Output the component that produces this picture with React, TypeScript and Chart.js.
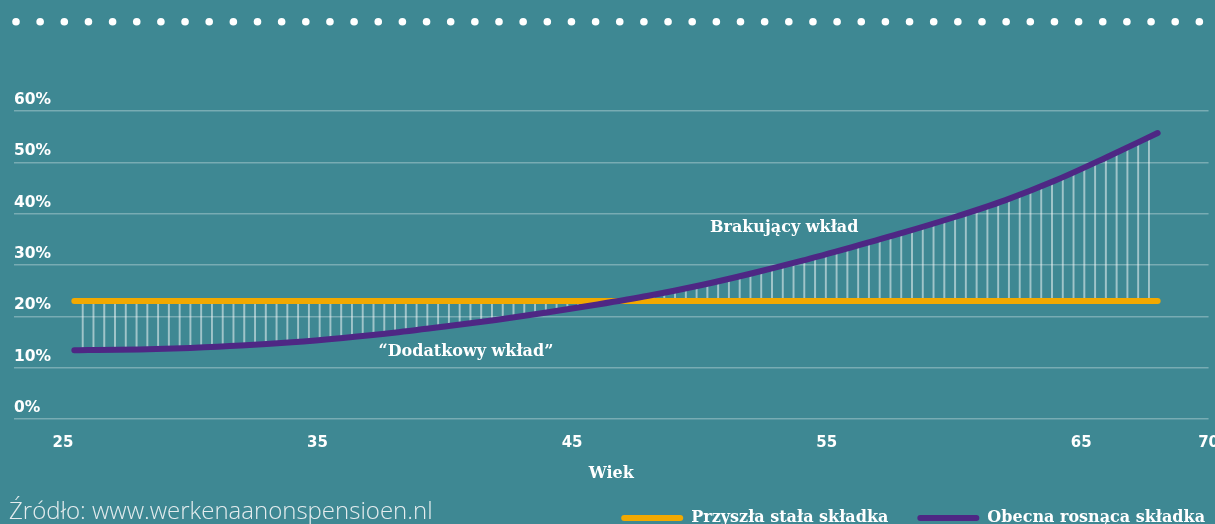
import React, { useEffect, useRef } from 'react';
import { Chart, registerables } from 'chart.js';

Chart.register(...registerables);

// ---- data ----
const ages = [25.45, 26, 28, 30, 32, 34, 36, 38, 40, 42, 44, 46, 48, 50, 52, 54, 56, 58, 60, 62, 64, 66, 68];
const growingContribution = [13.4, 13.42, 13.55, 13.85, 14.3, 14.95, 15.8, 16.8, 18.0, 19.3, 20.75, 22.3, 24.0, 26.0, 28.3, 30.8, 33.5, 36.3, 39.3, 42.6, 46.5, 51.0, 55.7];
const fixedContribution = [23, 23, 23, 23, 23, 23, 23, 23, 23, 23, 23, 23, 23, 23, 23, 23, 23, 23, 23, 23, 23, 23, 23];
const seriesLabels = ['Przyszła stała składka', 'Obecna rosnąca składka'];
const xTicks = [25, 35, 45, 55, 65, 70];
const xTitle = 'Wiek';
const annotationTexts = ['Brakujący wkład', '\u201CDodatkowy wkład\u201D'];
const annotationAges = [53.33, 40.83];
const annotationValues = [37.3, 13.1];
const sourceText = 'Źródło: www.werkenaanonspensioen.nl';

// ---- style ----
const BG = '#3e8893';
const ORANGE = '#f2a900';
const PURPLE = '#4e2784';
const W = 1234;
const H = 540;

export default function App() {
  const ref = useRef<HTMLCanvasElement>(null);

  useEffect(() => {
    document.body.style.margin = '0';
    const canvas = ref.current!;
    const ctx = canvas.getContext('2d')!;

    const pc = document.createElement('canvas');
    pc.width = 11;
    pc.height = 4;
    const pctx = pc.getContext('2d')!;
    pctx.fillStyle = 'rgba(255,255,255,0.5)';
    pctx.fillRect(0, 0, 2, 4);
    const pattern = ctx.createPattern(pc, 'repeat')!;
    pattern.setTransform(new DOMMatrix([10.77 / 11, 0, 0, 1, 81.7, 0]));

    const bgPlugin = {
      id: 'bgDots',
      beforeDraw(chart: any) {
        const c = chart.ctx;
        c.save();
        c.fillStyle = BG;
        c.fillRect(0, 0, chart.width, chart.height);
        c.fillStyle = '#ffffff';
        for (let i = 0; i < 52; i++) {
          c.beginPath();
          c.arc(16 + i * 24.15, 21.7, 3.8, 0, Math.PI * 2);
          c.fill();
        }
        c.restore();
      },
    };

    const annotationPlugin = {
      id: 'annotations',
      afterDatasetsDraw(chart: any) {
        const c = chart.ctx;
        const { x, y } = chart.scales;
        c.save();
        c.font = 'bold 16px "DejaVu Serif"';
        c.fillStyle = '#ffffff';
        c.textAlign = 'center';
        c.textBaseline = 'middle';
        annotationTexts.forEach((t, i) => {
          c.fillText(t, x.getPixelForValue(annotationAges[i]), y.getPixelForValue(annotationValues[i]));
        });
        c.restore();
      },
    };

    const chart = new Chart(canvas, {
      type: 'line',
      data: {
        datasets: [
          {
            label: seriesLabels[1],
            data: ages.map((a, i) => ({ x: a, y: growingContribution[i] })),
            borderColor: PURPLE,
            backgroundColor: pattern as any,
            borderWidth: 6,
            borderCapStyle: 'round',
            borderJoinStyle: 'round',
            pointRadius: 0,
            cubicInterpolationMode: 'monotone',
            fill: { target: 1 },
          },
          {
            label: seriesLabels[0],
            data: ages.map((a, i) => ({ x: a, y: fixedContribution[i] })),
            borderColor: ORANGE,
            backgroundColor: ORANGE,
            borderWidth: 6,
            borderCapStyle: 'round',
            pointRadius: 0,
            fill: false,
          },
        ],
      },
      options: {
        responsive: false,
        animation: false,
        events: [],
        layout: { padding: { left: 14, right: 0, top: 111, bottom: 4 } },
        plugins: {
          filler: { drawTime: 'beforeDatasetsDraw' },
          tooltip: { enabled: false },
          legend: {
            position: 'bottom',
            align: 'end',
            labels: {
              boxWidth: 62,
              boxHeight: 6,
              padding: 29,
              color: '#ffffff',
              font: { family: '"DejaVu Serif"', size: 16, weight: 'bold' },
              generateLabels: (ch: any) => {
                const ds = ch.data.datasets;
                return [1, 0].map((idx) => ({
                  text: ds[idx].label,
                  fillStyle: ds[idx].borderColor,
                  strokeStyle: ds[idx].borderColor,
                  lineWidth: 0,
                  borderRadius: 3,
                  fontColor: '#ffffff',
                  hidden: false,
                  datasetIndex: idx,
                }));
              },
            },
          },
        },
        scales: {
          x: {
            type: 'linear',
            min: 23.08,
            max: 70,
            afterBuildTicks: (s: any) => {
              s.ticks = xTicks.map((v) => ({ value: v }));
            },
            afterFit: (s: any) => {
              s.height = 62;
            },
            grid: { display: false, drawTicks: false },
            border: { display: false },
            ticks: {
              color: '#ffffff',
              font: { family: '"DejaVu Sans"', size: 15, weight: 'bold' },
              padding: 15,
              maxRotation: 0,
              autoSkip: false,
            },
            title: {
              display: true,
              text: xTitle,
              color: '#ffffff',
              font: { family: '"DejaVu Serif"', size: 16, weight: 'bold' },
              padding: { top: 0, bottom: -2 },
            },
          },
          y: {
            min: 0,
            max: 60,
            afterFit: (s: any) => {
              s.width = 0;
            },
            ticks: {
              stepSize: 10,
              mirror: true,
              padding: 0,
              labelOffset: -11,
              color: '#ffffff',
              font: { family: '"DejaVu Sans"', size: 15.5, weight: 'bold' },
              callback: (v: any) => v + '%',
            },
            grid: { color: 'rgba(255,255,255,0.3)', lineWidth: 1.5, drawTicks: false },
            border: { display: false },
          },
          yR: {
            position: 'right',
            display: true,
            afterFit: (s: any) => {
              s.width = W - 1211;
            },
            grid: { display: false, drawTicks: false },
            ticks: { display: false },
            border: { display: false },
          },
        },
      },
      plugins: [bgPlugin, annotationPlugin],
    } as any);

    return () => chart.destroy();
  }, []);

  return (
    <div style={{ position: 'relative', width: 1215, height: 524, overflow: 'hidden', background: BG }}>
      <canvas ref={ref} width={W} height={H} style={{ position: 'absolute', left: 0, top: 0, display: 'block' }} />
      <div
        style={{
          position: 'absolute',
          left: 9,
          top: 498,
          fontFamily: '"Open Sans", sans-serif',
          fontWeight: 300,
          fontSize: 24,
          lineHeight: '24px',
          color: '#e4ecee',
          whiteSpace: 'nowrap',
        }}
      >
        {sourceText}
      </div>
    </div>
  );
}
